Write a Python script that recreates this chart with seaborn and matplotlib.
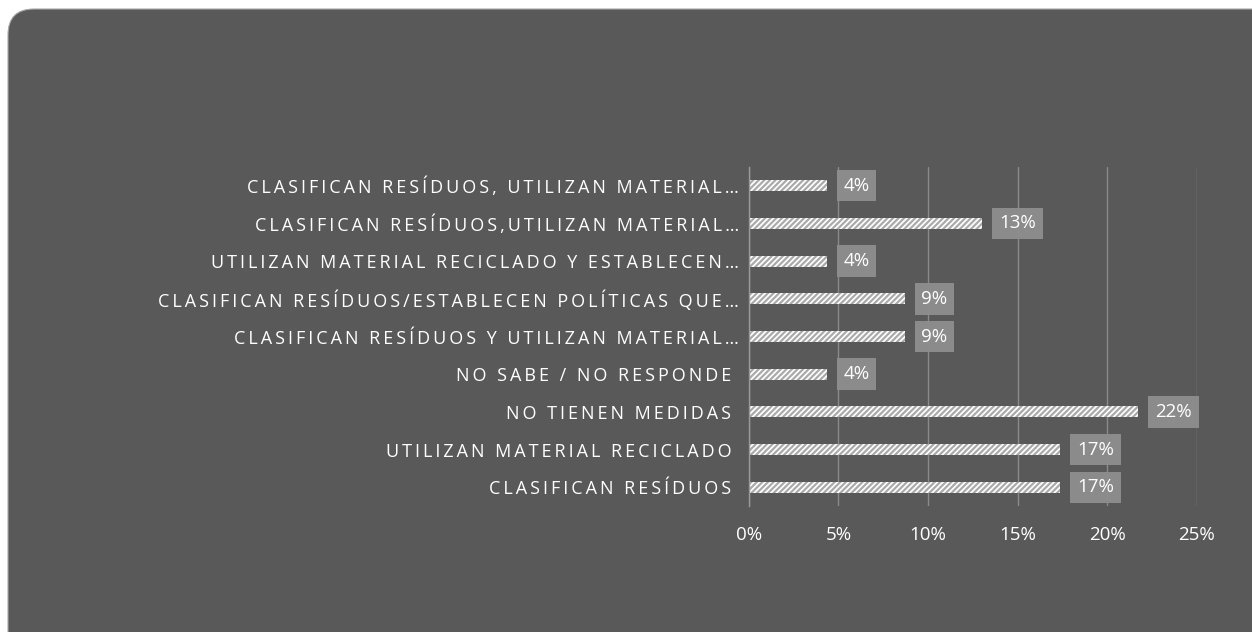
import matplotlib
matplotlib.use("Agg")
import matplotlib.pyplot as plt
import seaborn as sns
import pandas as pd
from matplotlib.patches import FancyBboxPatch
from matplotlib.ticker import FuncFormatter

categories = [
    "CLASIFICAN RESÍDUOS, UTILIZAN MATERIAL…",
    "CLASIFICAN RESÍDUOS,UTILIZAN MATERIAL…",
    "UTILIZAN MATERIAL RECICLADO Y ESTABLECEN…",
    "CLASIFICAN RESÍDUOS/ESTABLECEN POLÍTICAS QUE…",
    "CLASIFICAN RESÍDUOS Y UTILIZAN MATERIAL…",
    "NO SABE / NO RESPONDE ",
    "NO TIENEN MEDIDAS ",
    "UTILIZAN MATERIAL RECICLADO ",
    "CLASIFICAN RESÍDUOS ",
]
values = [4.35, 13.04, 4.35, 8.70, 8.70, 4.35, 21.74, 17.39, 17.39]
value_labels = ["4%", "13%", "4%", "9%", "9%", "4%", "22%", "17%", "17%"]
x_ticks = [0, 5, 10, 15, 20, 25]

df = pd.DataFrame({"categoria": categories, "valor": values})

sns.set_theme(style="dark")
plt.rcParams["font.family"] = ["Open Sans", "DejaVu Sans"]
plt.rcParams["hatch.linewidth"] = 1.6
bg = "#585958"

fig = plt.figure(figsize=(12.52, 6.32), dpi=100, facecolor="white")
# rounded dark panel behind everything
panel = FancyBboxPatch((8, -60), 1320, 623 + 60, boxstyle="round,pad=0,rounding_size=26",
                       transform=None, facecolor=bg, edgecolor="#a8a8a8", linewidth=0.8,
                       zorder=-10)
fig.add_artist(panel)

ax = fig.add_axes([0.598, 0.199, 0.358, 0.537])
ax.set_facecolor(bg)

sns.barplot(data=df, x="valor", y="categoria", orient="h", color="white",
            width=0.29, ax=ax, saturation=1)
for bar in ax.patches:
    bar.set_hatch("//////")
    bar.set_edgecolor("#aaaaaa")
    bar.set_linewidth(0)

# data labels in grey boxes
for i, (v, lab) in enumerate(zip(values, value_labels)):
    ax.annotate(lab, xy=(v, i), xytext=(12, 0), textcoords="offset points",
                ha="left", va="center", color="white", fontsize=13.5,
                bbox=dict(boxstyle="square,pad=0.36", facecolor="#8e8e8e",
                          edgecolor="none", alpha=0.95))

ax.set_xlim(0, 25)
ax.set_xticks(x_ticks)
ax.xaxis.set_major_formatter(FuncFormatter(lambda x, p: f"{x:.0f}%"))
ax.grid(axis="x", color="#8a8a8a", linewidth=1)
ax.grid(axis="y", visible=False)
ax.set_axisbelow(True)

for s in ["top", "right", "bottom"]:
    ax.spines[s].set_visible(False)
ax.spines["left"].set_color("#9a9a9a")
ax.spines["left"].set_linewidth(1)

# wide letter spacing like the original
spaced = ["\u2009".join(list(c)) for c in categories]
ax.set_yticks(range(len(categories)))
ax.set_yticklabels(spaced, fontsize=13, color="white")
ax.tick_params(axis="x", colors="white", labelsize=13.5, length=0, pad=14)
ax.tick_params(axis="y", length=0, pad=7)
ax.set_xlabel("")
ax.set_ylabel("")

plt.savefig("out.png", dpi=100, facecolor="white")
plt.close()
